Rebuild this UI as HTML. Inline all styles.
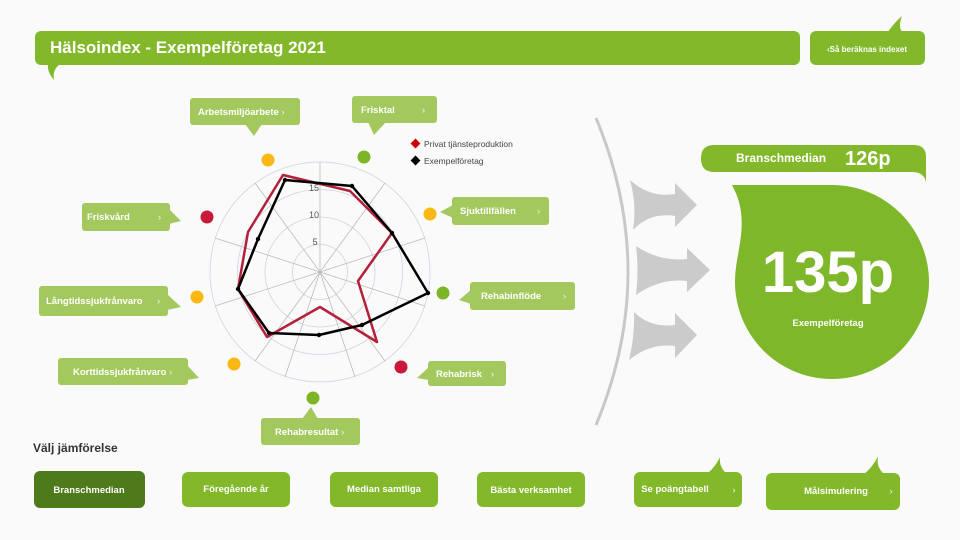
<!DOCTYPE html>
<html><head><meta charset="utf-8"><style>
html,body{margin:0;padding:0;background:#fafafa;}
svg{display:block;font-family:"Liberation Sans",sans-serif;}
</style></head><body>
<svg width="960" height="540" viewBox="0 0 960 540" xmlns="http://www.w3.org/2000/svg">
<rect width="960" height="540" fill="#fafafa"/>
<!-- title -->
<rect x="35" y="31" width="765" height="34" rx="6" fill="#82b82a"/>
<path d="M48,64 L60,64 Q52,70 54,80 Q47,72 48,64Z" fill="#82b82a"/>
<text x="50" y="53" font-size="17" font-weight="bold" fill="#fff">Hälsoindex - Exempelföretag 2021</text>
<rect x="810" y="31" width="115" height="34" rx="6" fill="#82b82a"/>
<path d="M888,32 Q893,24 902,16 Q898,26 902,32Z" fill="#82b82a"/>
<text x="867" y="52" font-size="8" font-weight="bold" fill="#fff" text-anchor="middle">‹Så beräknas indexet</text>

<!-- radar -->
<g fill="none" stroke="#ccd4e0" stroke-width="0.8">
<circle cx="320" cy="272" r="27.5"/><circle cx="320" cy="272" r="55"/><circle cx="320" cy="272" r="82.5"/><circle cx="320" cy="272" r="110"/>
</g>
<g stroke="#bbb" stroke-width="0.8">
<line x1="320" y1="272" x2="320" y2="162"/>
<line x1="320" y1="272" x2="385" y2="183"/>
<line x1="320" y1="272" x2="425" y2="238"/>
<line x1="320" y1="272" x2="425" y2="306"/>
<line x1="320" y1="272" x2="385" y2="361"/>
<line x1="320" y1="272" x2="355" y2="377"/>
<line x1="320" y1="272" x2="285" y2="377"/>
<line x1="320" y1="272" x2="255" y2="361"/>
<line x1="320" y1="272" x2="215" y2="306"/>
<line x1="320" y1="272" x2="215" y2="238"/>
<line x1="320" y1="272" x2="255" y2="183"/>
</g>
<text x="314" y="191" font-size="9" fill="#555" text-anchor="middle">15</text>
<text x="314" y="218" font-size="9" fill="#555" text-anchor="middle">10</text>
<text x="315" y="245" font-size="9" fill="#555" text-anchor="middle">5</text>
<polygon points="283,175 350,191 392,233 358,281 377,342 320,307 267,337 238,289 248,232" fill="none" stroke="#b4203a" stroke-width="2.5" stroke-linejoin="round"/>
<polygon points="285,180 352,186 392,233 428,293 362,325 319,335 269,333 238,289 258,239" fill="none" stroke="#000" stroke-width="2.5" stroke-linejoin="round"/>
<g fill="#000">
<circle cx="285" cy="180" r="2.2"/><circle cx="352" cy="186" r="2.2"/><circle cx="392" cy="233" r="2.2"/><circle cx="428" cy="293" r="2.2"/><circle cx="362" cy="325" r="2.2"/><circle cx="319" cy="335" r="2.2"/><circle cx="269" cy="333" r="2.2"/><circle cx="238" cy="289" r="2.2"/><circle cx="258" cy="239" r="2.2"/>
</g>
<!-- legend -->
<rect x="412" y="140" width="7" height="7" fill="#c00" transform="rotate(45 415.5 143.5)"/>
<text x="424" y="147" font-size="8.5" fill="#444">Privat tjänsteproduktion</text>
<rect x="412" y="157" width="7" height="7" fill="#000" transform="rotate(45 415.5 160.5)"/>
<text x="424" y="164" font-size="8.5" fill="#444">Exempelföretag</text>
<!-- dots -->
<circle cx="268" cy="160" r="6.5" fill="#fbb713"/>
<circle cx="364" cy="157" r="6.5" fill="#7cb526"/>
<circle cx="207" cy="217" r="6.5" fill="#c8193a"/>
<circle cx="430" cy="214" r="6.5" fill="#fbb713"/>
<circle cx="443" cy="293" r="6.5" fill="#7cb526"/>
<circle cx="197" cy="297" r="6.5" fill="#fbb713"/>
<circle cx="234" cy="364" r="6.5" fill="#fbb713"/>
<circle cx="401" cy="367" r="6.5" fill="#c8193a"/>
<circle cx="313" cy="398" r="6.5" fill="#7cb526"/>

<!-- label bubbles -->
<g fill="#a3c95e">
<rect x="190" y="98" width="110" height="27" rx="3"/><path d="M245,124 L262,124 L254,136Z"/>
<rect x="352" y="96" width="85" height="27" rx="3"/><path d="M368,122 L386,122 L374,135Z"/>
<rect x="452" y="197" width="97" height="28" rx="3"/><path d="M453,205 L453,218 L440,212Z"/>
<rect x="470" y="282" width="105" height="28" rx="3"/><path d="M471,290 L471,304 L459,300Z"/>
<rect x="428" y="361" width="78" height="25" rx="3"/><path d="M429,367 L429,380 L417,378Z"/>
<rect x="261" y="418" width="99" height="27" rx="3"/><path d="M302,419 L318,419 L311,407Z"/>
<rect x="82" y="203" width="88" height="28" rx="3"/><path d="M169,209 L169,224 L181,221Z"/>
<rect x="39" y="286" width="129" height="30" rx="3"/><path d="M167,294 L167,310 L181,307Z"/>
<rect x="58" y="358" width="130" height="27" rx="3"/><path d="M187,365 L187,380 L199,378Z"/>
</g>
<g font-size="9.5" font-weight="bold" fill="#fff">
<text x="198" y="115">Arbetsmiljöarbete <tspan font-weight="normal" fill="#dfe">›</tspan></text>
<text x="361" y="113">Frisktal<tspan x="422" font-weight="normal" fill="#dfe">›</tspan></text>
<text x="460" y="214">Sjuktillfällen<tspan x="537" font-weight="normal" fill="#dfe">›</tspan></text>
<text x="481" y="299">Rehabinflöde<tspan x="563" font-weight="normal" fill="#dfe">›</tspan></text>
<text x="436" y="377">Rehabrisk <tspan x="491" font-weight="normal" fill="#dfe">›</tspan></text>
<text x="275" y="435">Rehabresultat <tspan font-weight="normal" fill="#dfe">›</tspan></text>
<text x="87" y="220">Friskvård<tspan x="158" font-weight="normal" fill="#dfe">›</tspan></text>
<text x="46" y="304">Långtidssjukfrånvaro<tspan x="157" font-weight="normal" fill="#dfe">›</tspan></text>
<text x="73" y="375">Korttidssjukfrånvaro <tspan font-weight="normal" fill="#dfe">›</tspan></text>
</g>

<!-- arc and arrows -->
<path d="M596,118 Q660,272 596,425" fill="none" stroke="#c8c8c8" stroke-width="3"/>
<g fill="#cbcbcb">
<path d="M630,180 Q650,198 675,194 L675,183 L697,205 L675,227 L675,216 Q650,212 633,230 Q637,205 630,180Z"/>
<path d="M636,246 Q660,262 687,259 L687,248 L710,270 L687,292 L687,281 Q660,278 636,295 Q639,270 636,246Z"/>
<path d="M634,312 Q650,328 675,325 L675,313 L697,335 L675,358 L675,346 Q650,343 629,360 Q635,335 634,312Z"/>
</g>

<!-- right panel -->
<path d="M714,145 L914,145 Q926,145 926,157 L926,182 Q924,172 912,172 L714,172 Q701,172 701,158.5 Q701,145 714,145Z" fill="#82b82a"/>
<text x="736" y="162" font-size="12" font-weight="bold" fill="#fff">Branschmedian</text>
<text x="845" y="165" font-size="20" font-weight="bold" fill="#fff">126p</text>
<path d="M732,185 L832,185 A97,97 0 1 1 735,282 C735,250 752,222 732,185Z" fill="#7fb72a"/>
<text x="828" y="292" font-size="58" font-weight="bold" fill="#fff" text-anchor="middle">135p</text>
<text x="828" y="326" font-size="9.5" font-weight="bold" fill="#fff" text-anchor="middle">Exempelföretag</text>

<!-- bottom -->
<text x="33" y="452" font-size="12" font-weight="bold" fill="#333">Välj jämförelse</text>
<rect x="34" y="471" width="111" height="37" rx="6" fill="#4e7a1b"/>
<rect x="182" y="472" width="108" height="35" rx="6" fill="#82b82a"/>
<rect x="330" y="472" width="108" height="35" rx="6" fill="#82b82a"/>
<rect x="477" y="472" width="108" height="35" rx="6" fill="#82b82a"/>
<rect x="634" y="472" width="108" height="35" rx="6" fill="#82b82a"/>
<path d="M708,473 Q716,466 720,457 Q719,467 726,473Z" fill="#82b82a"/>
<rect x="766" y="473" width="134" height="37" rx="6" fill="#82b82a"/>
<path d="M864,474 Q873,467 878,456 Q876,467 884,474Z" fill="#82b82a"/>
<g font-size="9.5" font-weight="bold" fill="#fff" text-anchor="middle">
<text x="89" y="493">Branschmedian</text>
<text x="236" y="492">Föregående år</text>
<text x="384" y="492">Median samtliga</text>
<text x="531" y="493">Bästa verksamhet</text>
<text x="675" y="492">Se poängtabell</text>
<text x="734" y="493" font-weight="normal" fill="#dfe">›</text>
<text x="836" y="494">Målsimulering</text>
<text x="891" y="494" font-weight="normal" fill="#dfe">›</text>
</g>
</svg>
</body></html>
